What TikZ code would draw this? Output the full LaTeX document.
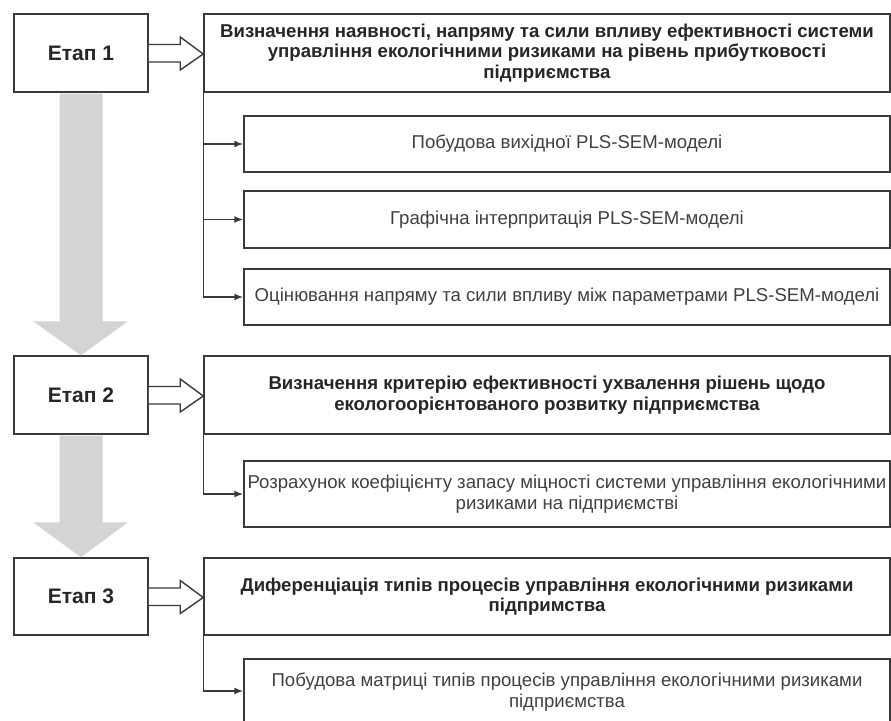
\documentclass[tikz,border=0pt]{standalone}
\usepackage{fontspec}
\setmainfont{Liberation Sans}
\usetikzlibrary{arrows.meta,calc}
\definecolor{ln}{HTML}{3A3A3A}
\definecolor{gr}{HTML}{D4D4D4}
\tikzset{
  etap/.style={draw=ln,line width=1.5pt,minimum width=134pt,minimum height=78pt,inner sep=0pt,font=\fontsize{21}{24}\selectfont\bfseries,text=black!85},
  head/.style={draw=ln,line width=1.5pt,minimum width=686pt,inner sep=0pt,align=center,font=\fontsize{18.6}{20.5}\selectfont\bfseries,text=black!85},
  sub/.style={draw=ln,line width=1.5pt,minimum width=646pt,inner sep=0pt,align=center,font=\fontsize{18.6}{21}\selectfont,text=black!75},
  conn/.style={draw=ln,line width=1.5pt},
  arr/.style={conn,-{Latex[length=9pt,width=7pt]}},
  hollow/.style={draw=ln,line width=1.4pt,fill=white,line join=miter},
  grey/.style={fill=gr,draw=none}
}
\begin{document}
\begin{tikzpicture}[x=1pt,y=-1pt]
\useasboundingbox (0,0) rectangle (891,720);
% stage boxes
\node[etap] (e1) at (81,53) {Етап 1};
\node[etap] (e2) at (81,395) {Етап 2};
\node[etap, minimum height=77pt] (e3) at (81,596.5) {Етап 3};
% header boxes
\node[head,minimum height=78pt] (h1) at (547,53) {Визначення наявності, напряму та сили впливу ефективності системи\\управління екологічними ризиками на рівень прибутковості\\підприємства};
\node[head,minimum height=78pt] (h2) at (547,395) {Визначення критерію ефективності ухвалення рішень щодо\\екологоорієнтованого розвитку підприємства};
\node[head,minimum height=77pt] (h3) at (547,596.5) {Диференціація типів процесів управління екологічними ризиками\\підпримства};
% sub boxes
\node[sub,minimum height=56pt] (s1a) at (567,144) {Побудова вихідної PLS-SEM-моделі};
\node[sub,minimum height=57pt] (s1b) at (567,219.5) {Графічна інтерпритація PLS-SEM-моделі};
\node[sub,minimum height=56pt] (s1c) at (567,297) {Оцінювання напряму та сили впливу між параметрами PLS-SEM-моделі};
\node[sub,minimum height=66pt] (s2) at (567,494) {Розрахунок коефіцієнту запасу міцності системи управління екологічними\\ризиками на підприємстві};
\node[sub,minimum height=67pt] (s3) at (567,692.5) {Побудова матриці типів процесів управління екологічними ризиками\\підприємства};
% connectors
\draw[conn] (h1.south west) -- (h1.south west |- s1c.west);
\draw[arr] (h1.south west |- s1a.west) -- (s1a.west);
\draw[arr] (h1.south west |- s1b.west) -- (s1b.west);
\draw[arr] (h1.south west |- s1c.west) -- (s1c.west);
\draw[conn] (h2.south west) -- (h2.south west |- s2.west);
\draw[arr] (h2.south west |- s2.west) -- (s2.west);
\draw[conn] (h3.south west) -- (h3.south west |- 0,691);
\draw[arr] (h3.south west |- 0,691) -- (s3.west |- 0,691);
% hollow block arrows
\foreach \e/\h in {e1/h1,e2/h2,e3/h3}{
  \draw[hollow] ($(\e.east)+(0,-8.5)$) -- ($(\h.west |- \e.east)+(-23,-8.5)$) -- ($(\h.west |- \e.east)+(-23,-16)$)
    -- ($(\h.west |- \e.east)+(0,1)$) -- ($(\h.west |- \e.east)+(-23,17)$) -- ($(\h.west |- \e.east)+(-23,9)$) -- ($(\e.east)+(0,9)$);
}
% grey down arrows
\fill[grey] ($(e1.south)+(-21.5,0.8)$) -- ($(e2.north)+(-21.5,-34)$) -- ($(e2.north)+(-48,-34)$) -- ($(e2.north)+(0,0)$)
  -- ($(e2.north)+(47,-34)$) -- ($(e2.north)+(21.5,-34)$) -- ($(e1.south)+(21.5,0.8)$) -- cycle;
\fill[grey] ($(e2.south)+(-21.5,0.8)$) -- ($(e3.north)+(-21.5,-35)$) -- ($(e3.north)+(-48,-35)$) -- ($(e3.north)+(0,0)$)
  -- ($(e3.north)+(47,-35)$) -- ($(e3.north)+(21.5,-35)$) -- ($(e2.south)+(21.5,0.8)$) -- cycle;
\end{tikzpicture}
\end{document}
